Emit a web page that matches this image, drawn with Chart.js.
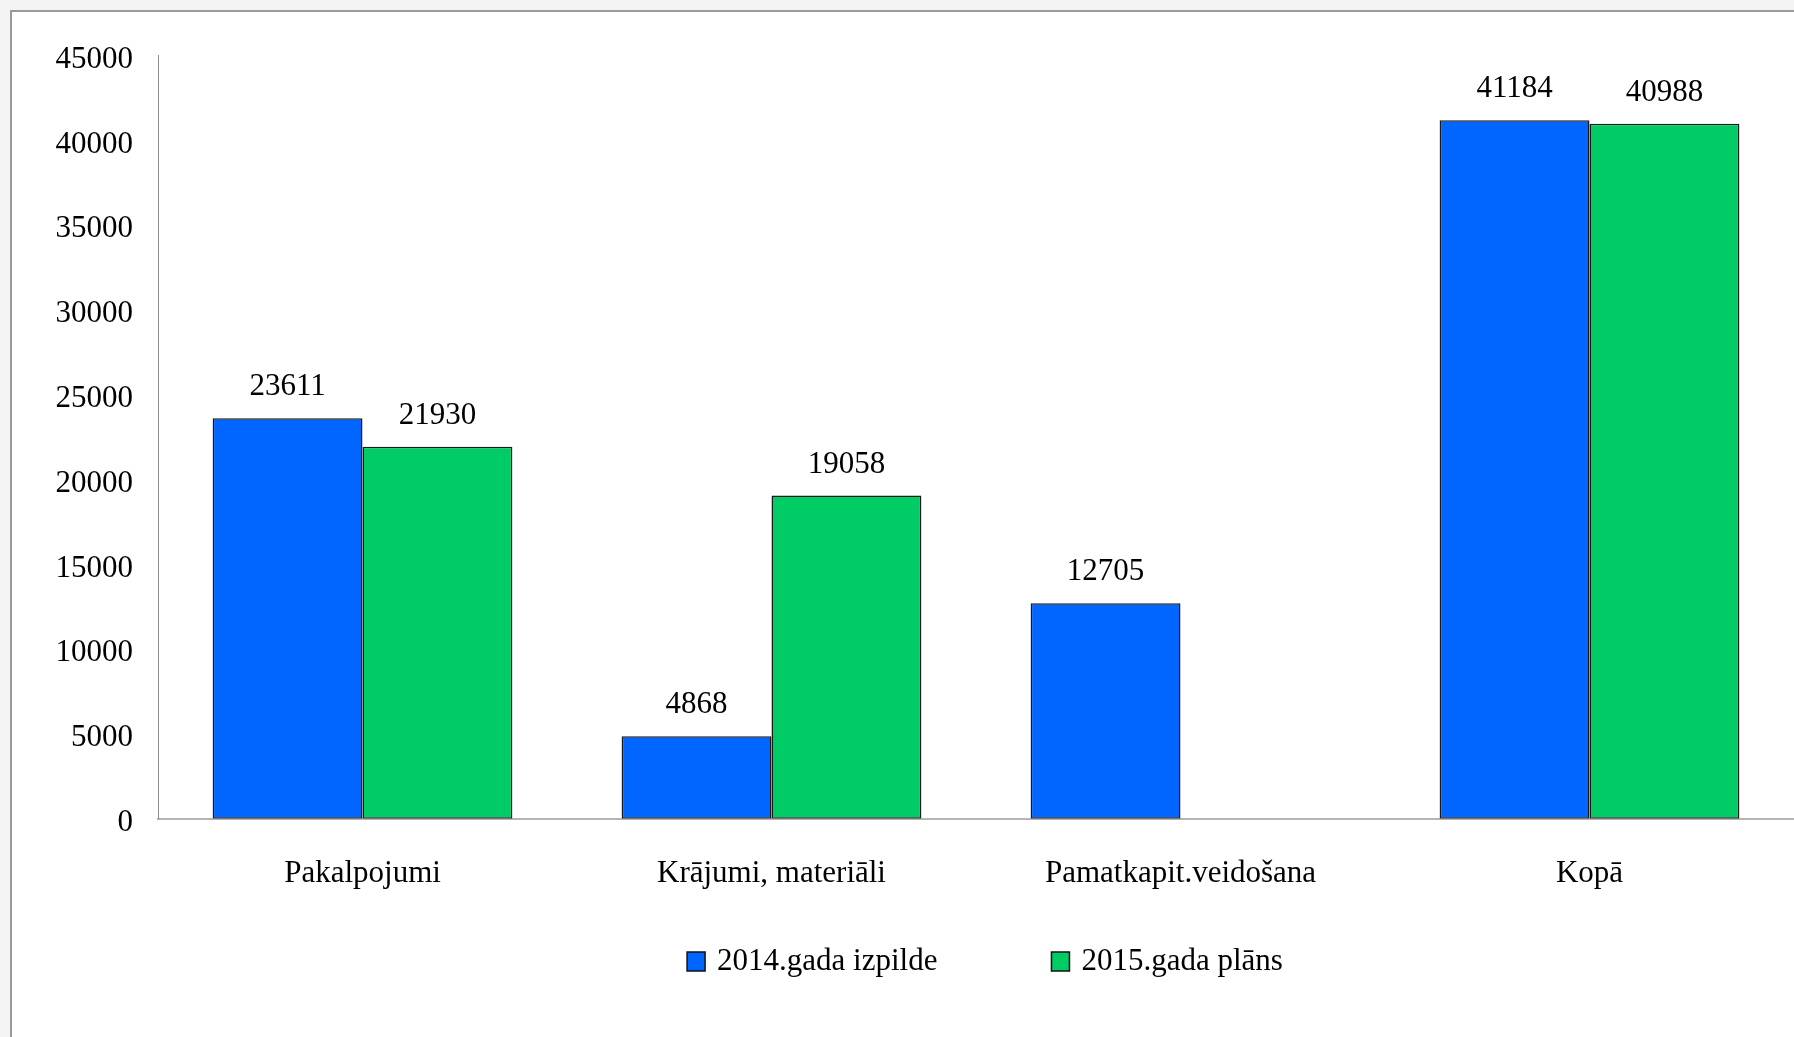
<!DOCTYPE html>
<html>
<head>
<meta charset="utf-8">
<script src="https://cdn.jsdelivr.net/npm/chart.js@4.4.1/dist/chart.umd.min.js"></script>
<style>
  html, body { margin: 0; padding: 0; }
  body {
    width: 1794px; height: 1037px; overflow: hidden;
    background: #f4f4f4;
  }
  .frame {
    position: absolute; left: 10px; top: 10px;
    width: 1800px; height: 1040px;
    background: #fff;
    border: 2px solid #9a9a9a;
    box-sizing: border-box;
  }
  .wrap { position: absolute; left: 12px; top: 12px; width: 1782px; height: 1025px; }
</style>
</head>
<body>
<div class="frame"></div>
<div class="wrap"><canvas id="chart"></canvas></div>
<script>
const categories = ['Pakalpojumi', 'Krājumi, materiāli', 'Pamatkapit.veidošana', 'Kopā'];
const seriesNames = ['2014.gada izpilde', '2015.gada plāns'];
const actual2014 = [23611, 4868, 12705, 41184];
const plan2015 = [21930, 19058, null, 40988];
const yTicks = [0, 5000, 10000, 15000, 20000, 25000, 30000, 35000, 40000, 45000];

const FONT = '"Liberation Serif", "Times New Roman", serif';
const blue = '#0066ff';
const green = '#00cc66';

// value labels above each bar
const barLabels = {
  id: 'barLabels',
  afterDatasetsDraw(chart) {
    const ctx = chart.ctx;
    ctx.save();
    ctx.font = '31px ' + FONT;
    ctx.fillStyle = '#000';
    ctx.textAlign = 'center';
    ctx.textBaseline = 'middle';
    chart.data.datasets.forEach((ds, i) => {
      chart.getDatasetMeta(i).data.forEach((bar, j) => {
        const v = ds.data[j];
        if (v == null) return;
        ctx.fillText(String(v), bar.x, bar.y - 31);
      });
    });
    ctx.restore();
  }
};

// legend drawn under the axis
const bottomLegend = {
  id: 'bottomLegend',
  afterDraw(chart) {
    const ctx = chart.ctx;
    const area = chart.chartArea;
    ctx.save();
    ctx.font = '31px ' + FONT;
    const box = 18, gap = 12, spacing = 114;
    const items = chart.data.datasets.map(ds => ({
      label: ds.label, color: ds.backgroundColor, w: ctx.measureText(ds.label).width
    }));
    const total = items.reduce((s, it) => s + box + gap + it.w, 0) + spacing * (items.length - 1);
    let x = (area.left + area.right) / 2 + 9 - total / 2;
    const y = 949;
    items.forEach(it => {
      ctx.fillStyle = it.color;
      ctx.fillRect(x, y - box / 2, box, box + 1);
      ctx.strokeStyle = '#111';
      ctx.lineWidth = 1.5;
      ctx.strokeRect(x, y - box / 2, box, box + 1);
      ctx.fillStyle = '#000';
      ctx.textBaseline = 'middle';
      ctx.textAlign = 'left';
      ctx.fillText(it.label, x + box + gap, y + 1);
      x += box + gap + it.w + spacing;
    });
    ctx.restore();
  }
};

new Chart(document.getElementById('chart'), {
  type: 'bar',
  data: {
    labels: categories,
    datasets: [
      {
        label: seriesNames[0],
        data: actual2014,
        backgroundColor: blue,
        borderColor: '#1a1a1a',
        borderWidth: 1.5,
        borderSkipped: false
      },
      {
        label: seriesNames[1],
        data: plan2015,
        backgroundColor: green,
        borderColor: '#1a1a1a',
        borderWidth: 1.5,
        borderSkipped: false
      }
    ]
  },
  options: {
    responsive: true,
    maintainAspectRatio: false,
    animation: false,
    datasets: { bar: { categoryPercentage: 0.733, barPercentage: 1.0 } },
    layout: { padding: { top: 39, right: 0, bottom: 109, left: 0 } },
    scales: {
      x: {
        grid: { display: false, drawTicks: false },
        border: { display: true, color: '#b4b4b4', width: 2 },
        ticks: { color: '#000', font: { family: FONT, size: 31 }, padding: 36, maxRotation: 0 }
      },
      y: {
        min: 0,
        max: 45000,
        afterBuildTicks: (scale) => { scale.ticks = yTicks.map(v => ({ value: v })); },
        afterFit: (scale) => { scale.width = 146; },
        grid: { display: false, drawTicks: false },
        border: { display: true, color: '#8c8c8c', width: 1 },
        ticks: {
          color: '#000', font: { family: FONT, size: 31 }, padding: 25, labelOffset: 4,
          callback: (v) => String(v)
        }
      }
    },
    plugins: {
      legend: { display: false },
      tooltip: { enabled: false }
    }
  },
  plugins: [barLabels, bottomLegend]
});
</script>
</body>
</html>
